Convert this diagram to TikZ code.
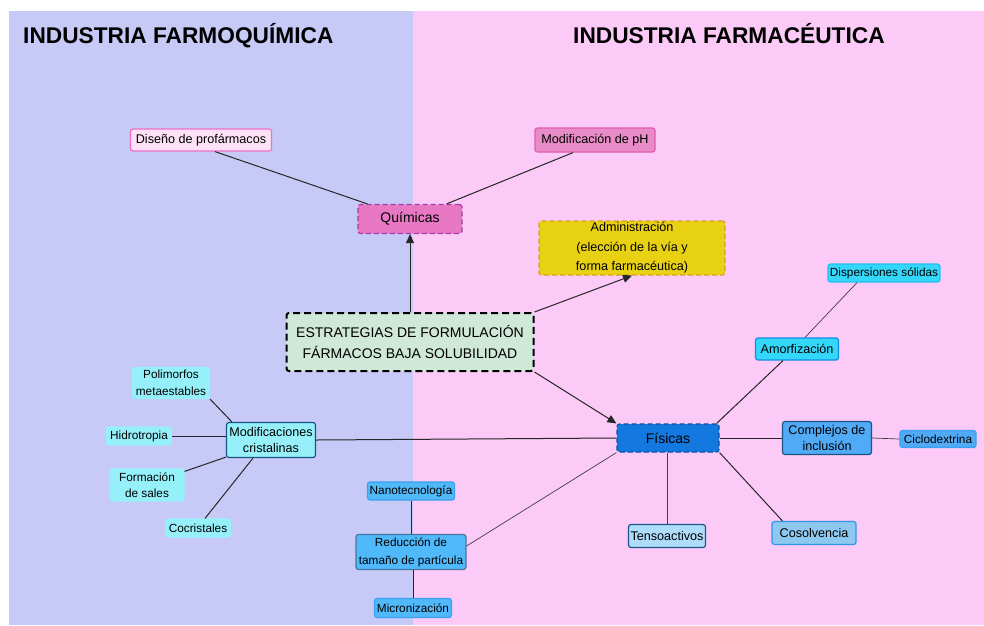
\documentclass[tikz,border=0pt]{standalone}
\usepackage{fontspec}
\setmainfont{Liberation Sans}
\usetikzlibrary{arrows.meta,calc}

\definecolor{bgblue}{RGB}{199,202,246}
\definecolor{bgpink}{RGB}{251,202,246}
\definecolor{disfill}{RGB}{253,226,246}
\definecolor{disdraw}{RGB}{240,110,200}
\definecolor{phfill}{RGB}{232,140,200}
\definecolor{phdraw}{RGB}{225,90,175}
\definecolor{quifill}{RGB}{232,120,195}
\definecolor{quidraw}{RGB}{165,60,170}
\definecolor{admfill}{RGB}{232,208,18}
\definecolor{admdraw}{RGB}{215,160,30}
\definecolor{estfill}{RGB}{207,232,215}
\definecolor{cyanfill}{RGB}{50,215,250}
\definecolor{cyandraw}{RGB}{40,190,240}
\definecolor{amodraw}{RGB}{20,140,230}
\definecolor{palecyan}{RGB}{150,240,250}
\definecolor{navy}{RGB}{25,85,135}
\definecolor{fisfill}{RGB}{20,120,225}
\definecolor{fisdraw}{RGB}{15,80,160}
\definecolor{midblue}{RGB}{80,170,245}
\definecolor{skyfill}{RGB}{80,185,250}
\definecolor{skydraw}{RGB}{60,160,240}
\definecolor{tensfill}{RGB}{175,220,250}
\definecolor{cosfill}{RGB}{140,200,240}
\definecolor{cosdraw}{RGB}{50,150,230}

\tikzset{
  x=1pt, y=-1pt,
  box/.style={rectangle, rounded corners=2.5pt, line width=1.2pt, align=center,
    inner sep=0pt, font=\fontsize{12.6}{16}\selectfont},
  small/.style={box, font=\fontsize{11.8}{16.5}\selectfont},
  big/.style={box, font=\fontsize{14}{21}\selectfont},
  dashbox/.style={dash pattern=on 5pt off 3pt},
  link/.style={draw=black!85, line width=1pt},
  thin link/.style={draw=black!75, line width=0.7pt},
  arrowlink/.style={link, -{Triangle[length=9pt,width=8pt]}},
  title/.style={anchor=base west, inner sep=0pt, font=\fontsize{22.7}{26}\selectfont\bfseries}
}

\begin{document}
\begin{tikzpicture}
\useasboundingbox (0,0) rectangle (984,625);
% two industry panels
\fill[bgblue] (9,11) rectangle (413,625);
\fill[bgpink] (413,11) rectangle (984,625);
\node[title] (tq) at (23,43) {INDUSTRIA FARMOQUÍMICA};
\node[title] (tf) at (573,43) {INDUSTRIA FARMACÉUTICA};

% central strategy and its three branches
\node[big, fill=estfill, draw=black, dash pattern=on 7pt off 4pt, line width=2pt,
  minimum width=247, minimum height=58] (est) at (410,342)
  {ESTRATEGIAS DE FORMULACIÓN\\FÁRMACOS BAJA SOLUBILIDAD};
\node[big, fill=quifill, draw=quidraw, dashbox, minimum width=104, minimum height=29] (qui) at (410,219) {Químicas};
\node[box, fill=admfill, draw=admdraw, dashbox, minimum width=186, minimum height=54,
  font=\fontsize{12.6}{19.5}\selectfont] (adm) at (632,248)
  {Administración\\(elección de la vía y\\forma farmacéutica)};
\node[big, fill=fisfill, draw=fisdraw, dashbox, minimum width=102, minimum height=28] (fis) at (668,438) {Físicas};

% chemical strategies
\node[box, fill=disfill, draw=disdraw, minimum width=141, minimum height=22] (dis) at (201,140) {Diseño de profármacos};
\node[box, fill=phfill, draw=phdraw, minimum width=120, minimum height=24] (ph) at (595,140) {Modificación de pH};

% physical strategies
\node[small, fill=cyanfill, draw=cyandraw, minimum width=112, minimum height=18] (disp) at (884,273) {Dispersiones sólidas};
\node[box, fill=cyanfill, draw=amodraw, minimum width=83, minimum height=22] (amo) at (797,349) {Amorfización};
\node[box, fill=midblue, draw=navy, minimum width=89, minimum height=33] (comp) at (827,438) {Complejos de\\inclusión};
\node[small, fill=midblue, draw=skydraw, minimum width=76, minimum height=17] (cic) at (938,439) {Ciclodextrina};
\node[box, fill=tensfill, draw=navy, minimum width=77, minimum height=23] (tens) at (667,536) {Tensoactivos};
\node[box, fill=cosfill, draw=cosdraw, minimum width=84, minimum height=23] (cos) at (814,533) {Cosolvencia};

% crystal modifications
\node[box, fill=palecyan, draw=navy, minimum width=89, minimum height=35] (mod) at (271,440) {Modificaciones\\cristalinas};
\node[small, fill=palecyan, draw=palecyan, minimum width=77, minimum height=31] (pol) at (171,383) {Polimorfos\\metaestables};
\node[small, fill=palecyan, draw=palecyan, minimum width=65, minimum height=18] (hid) at (139,436) {Hidrotropia};
\node[small, fill=palecyan, draw=palecyan, minimum width=74, minimum height=32] (form) at (147,485) {Formación\\de sales};
\node[small, fill=palecyan, draw=palecyan, minimum width=65, minimum height=18] (coc) at (198,528) {Cocristales};

% particle size reduction
\node[small, fill=skyfill, draw=skydraw, minimum width=87, minimum height=18] (nano) at (411,491) {Nanotecnología};
\node[small, fill=skyfill, draw=navy!80, minimum width=110, minimum height=35,
  font=\fontsize{11.8}{18}\selectfont] (red) at (411,552) {Reducción de\\tamaño de partícula};
\node[small, fill=skyfill, draw=skydraw, minimum width=77, minimum height=19] (mic) at (413,608) {Micronización};

% arrows from the central strategy
\draw[arrowlink] (est.north -| qui.south) -- (qui.south);
\draw[arrowlink] (est.north east) -- (adm.south);
\draw[arrowlink] (est.south east) -- (fis.north west);

% chemical links
\draw[link] ($(dis.south)+(14,0)$) -- ($(qui.north west)+(10,0)$);
\draw[link] ($(ph.south)+(-22,0)$) -- ($(qui.north east)+(-16,0)$);

% physical links
\draw[link] ($(fis.north east)+(-3,0)$) -- ($(amo.south)+(-14,0)$);
\draw[thin link] ($(amo.north)+(8,0)$) -- ($(disp.south)+(-27,0)$);
\draw[link] (fis.east) -- (comp.west);
\draw[thin link] (comp.east) -- (cic.west);
\draw[thin link] (fis.south -| tens.north) -- (tens.north);
\draw[link] (fis.south east) -- ($(cos.north west)+(11,0)$);
\draw[link] (fis.west) -- (mod.east);
\draw[thin link] (fis.south west) -- ($(red.east)+(0,-6)$);

% crystal modification links
\draw[link] (pol.south east) -- ($(mod.north west)+(6,0)$);
\draw[link] (hid.east) -- (hid.east -| mod.west);
\draw[link] ($(form.north east)+(0,3)$) -- ($(mod.south west)+(0,-1)$);
\draw[link] ($(coc.north)+(7,0)$) -- ($(mod.south)+(-18,0)$);

% particle size links
\draw[link] (nano.south) -- (red.north -| nano.south);
\draw[link] (red.south -| mic.north) -- (mic.north);
\end{tikzpicture}
\end{document}
